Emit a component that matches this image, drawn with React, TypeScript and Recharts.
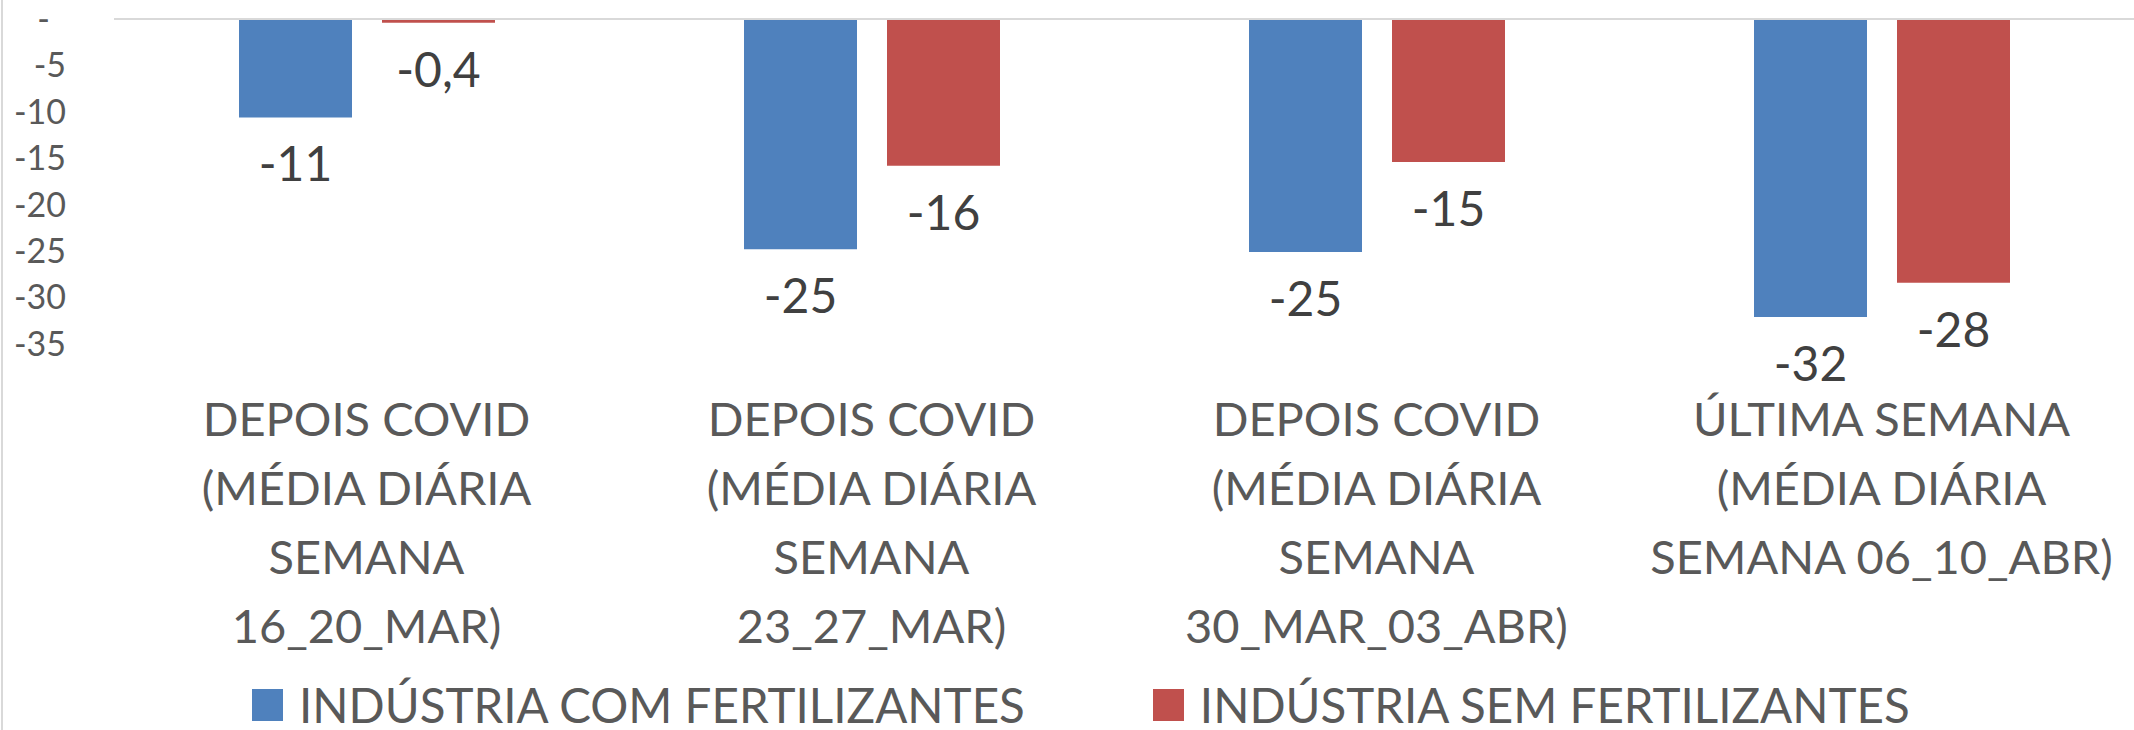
import React from "react";
import {
  Bar,
  BarChart,
  LabelList,
  Legend,
  ReferenceLine,
  XAxis,
  YAxis,
} from "recharts";

const CATEGORIES = [
  "DEPOIS COVID\n(MÉDIA DIÁRIA\nSEMANA\n16_20_MAR)",
  "DEPOIS COVID\n(MÉDIA DIÁRIA\nSEMANA\n23_27_MAR)",
  "DEPOIS COVID\n(MÉDIA DIÁRIA\nSEMANA\n30_MAR_03_ABR)",
  "ÚLTIMA SEMANA\n(MÉDIA DIÁRIA\nSEMANA 06_10_ABR)",
];

const COM_FERTILIZANTES = [-10.6, -24.8, -25.1, -32.1];
const SEM_FERTILIZANTES = [-0.4, -15.8, -15.4, -28.4];

const SERIES_NAMES = ["INDÚSTRIA COM FERTILIZANTES", "INDÚSTRIA SEM FERTILIZANTES"];
const Y_TICKS = [0, -5, -10, -15, -20, -25, -30, -35];

const FONT = "Lato, 'Open Sans', sans-serif";
const BLUE = "#4f81bd";
const RED = "#c0504d";

const data = CATEGORIES.map((label, i) => ({
  label,
  com: COM_FERTILIZANTES[i],
  sem: SEM_FERTILIZANTES[i],
}));

const formatValue = (v: number) =>
  Math.abs(v) < 1 ? v.toFixed(1).replace(".", ",") : String(Math.round(v));

const YTick = ({ y, payload }: any) => (
  <text
    x={payload.value === 0 ? 50 : 66}
    y={y}
    dy="0.35em"
    textAnchor="end"
    fill="#595959"
    fontFamily={FONT}
    fontSize={34}
  >
    {payload.value === 0 ? "-" : String(payload.value)}
  </text>
);

const CategoryTick = ({ x, payload }: any) => {
  const lines = String(payload.value).split("\n");
  return (
    <text textAnchor="middle" fill="#595959" fontFamily={FONT} fontSize={47}>
      {lines.map((line, i) => (
        <tspan key={i} x={x} y={436 + i * 69}>
          {line}
        </tspan>
      ))}
    </text>
  );
};

const ValueLabel = ({ x, y, width, height, value }: any) => {
  const bottom = Math.max(y, y + height);
  return (
    <text
      x={x + width / 2}
      y={bottom + 64}
      textAnchor="middle"
      fill="#404040"
      fontFamily={FONT}
      fontSize={48}
    >
      {formatValue(value)}
    </text>
  );
};

const renderLegend = ({ payload }: any) => (
  <div
    style={{
      display: "flex",
      alignItems: "center",
      height: 50,
      paddingLeft: 252,
      fontFamily: FONT,
      fontSize: 47.5,
      lineHeight: "50px",
      color: "#595959",
    }}
  >
    {(payload || []).map((entry: any, i: number) => (
      <div
        key={i}
        style={{ display: "flex", alignItems: "center", marginRight: 128 }}
      >
        <span
          style={{
            display: "inline-block",
            width: 31,
            height: 32,
            background: entry.color,
            marginRight: 16,
          }}
        />
        <span style={{ whiteSpace: "nowrap" }}>{entry.value}</span>
      </div>
    ))}
  </div>
);

export default function App() {
  return (
    <div
      style={{
        position: "absolute",
        left: 0,
        top: 0,
        width: 2134,
        height: 730,
        background: "#fff",
        overflow: "hidden",
      }}
    >
      <div
        style={{
          position: "absolute",
          left: 1,
          top: 0,
          width: 2,
          height: 730,
          background: "#d9d9d9",
        }}
      />
      <BarChart
        width={2134}
        height={730}
        data={data}
        margin={{ top: 19, right: 0, bottom: 0, left: 0 }}
        barSize={113}
        barGap={30}
      >
        <XAxis
          dataKey="label"
          axisLine={false}
          tickLine={false}
          interval={0}
          height={336}
          tick={<CategoryTick />}
        />
        <YAxis
          domain={[-35, 0]}
          ticks={Y_TICKS}
          width={114}
          axisLine={false}
          tickLine={false}
          tick={<YTick />}
        />
        <Bar dataKey="com" name={SERIES_NAMES[0]} fill={BLUE} isAnimationActive={false}>
          <LabelList dataKey="com" content={<ValueLabel />} />
        </Bar>
        <Bar dataKey="sem" name={SERIES_NAMES[1]} fill={RED} isAnimationActive={false}>
          <LabelList dataKey="sem" content={<ValueLabel />} />
        </Bar>
        <ReferenceLine y={0} stroke="#d9d9d9" strokeWidth={2} />
        <Legend
          verticalAlign="bottom"
          height={50}
          content={renderLegend}
          wrapperStyle={{ height: 50 }}
        />
      </BarChart>
    </div>
  );
}
